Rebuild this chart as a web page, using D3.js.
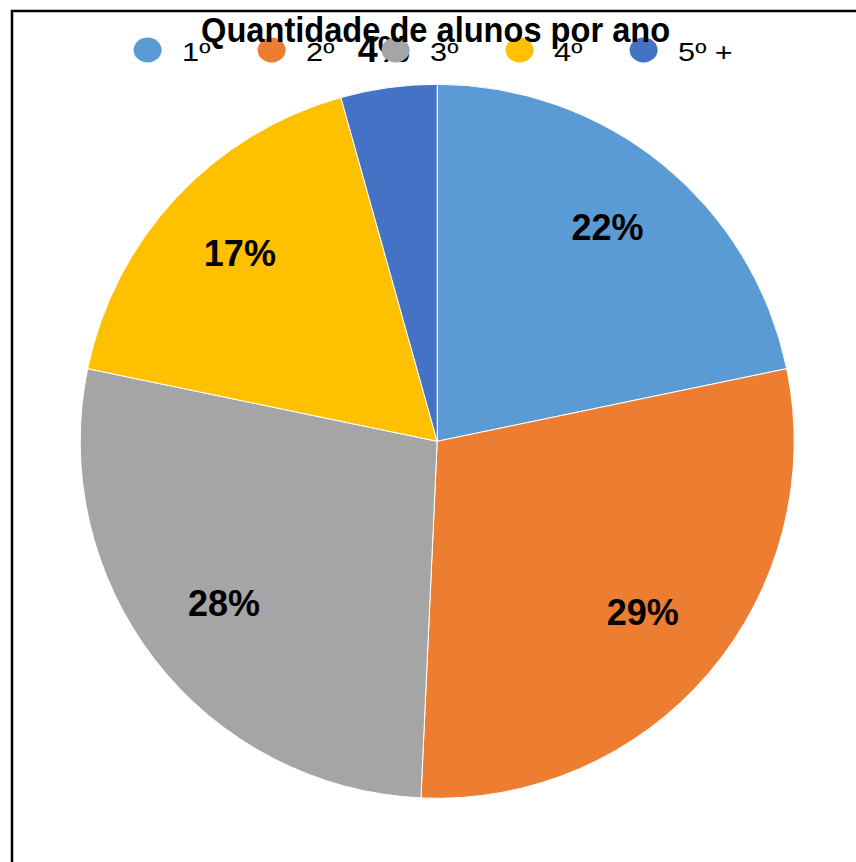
<!DOCTYPE html>
<html>
<head>
<meta charset="utf-8">
<script src="https://d3js.org/d3.v7.min.js"></script>
<style>
    body {
        margin: 0;
        background: #fff;
    }
    text {
        font-family: "Liberation Sans", Arial, sans-serif;
        fill: #000;
    }
</style>
</head>
<body>
<svg width="856" height="862"></svg>
<script>
    // data
    var categories = ["1º", "2º", "3º", "4º", "5º +"];
    var counts = [15, 20, 19, 12, 3];
    var colors = ["#5B9BD5", "#ED7D31", "#A5A5A5", "#FFC000", "#4472C4"];
    var title = "Quantidade de alunos por ano";

    var svg = d3.select("svg"),
        cx = 437.2, cy = 441.3,
        radius = 357;

    var total = d3.sum(counts);

    // frame (left & top edges visible)
    svg.append("rect")
        .attr("x", 12).attr("y", 11)
        .attr("width", 900).attr("height", 900)
        .attr("fill", "none")
        .attr("stroke", "#000")
        .attr("stroke-width", 2.5);

    var pie = d3.pie().sort(null).value(function (d) { return d; });
    var arcs = pie(counts);

    var arc = d3.arc().innerRadius(0).outerRadius(radius);
    var labelArc = d3.arc().innerRadius(270).outerRadius(270);
    var outArc = d3.arc().innerRadius(392).outerRadius(392);

    var g = svg.append("g").attr("transform", "translate(" + cx + "," + cy + ")");

    g.selectAll("path")
        .data(arcs)
        .enter().append("path")
        .attr("d", arc)
        .attr("fill", function (d, i) { return colors[i]; })
        .attr("stroke", "#fff")
        .attr("stroke-width", 1);

    // data labels
    g.selectAll("text.lbl")
        .data(arcs)
        .enter().append("text")
        .attr("class", "lbl")
        .attr("transform", function (d) {
            var c = (d.value / total < 0.05 ? outArc : labelArc).centroid(d);
            return "translate(" + c[0] + "," + c[1] + ")";
        })
        .attr("text-anchor", "middle")
        .attr("dy", "0.24em")
        .style("font-size", "36px")
        .style("font-weight", "bold")
        .text(function (d) { return Math.round(d.value / total * 100) + "%"; });

    // legend
    var legend = svg.append("g");
    var item = legend.selectAll("g")
        .data(categories)
        .enter().append("g")
        .attr("transform", function (d, i) { return "translate(" + (147.6 + i * 124) + ",50)"; });

    item.append("ellipse")
        .attr("rx", 14).attr("ry", 12.5)
        .attr("fill", function (d, i) { return colors[i]; });

    item.append("text")
        .attr("transform", "translate(34.5,11) scale(1.18,1)")
        .style("font-size", "26px")
        .text(function (d) { return d; });

    // title
    svg.append("text")
        .attr("x", 435.6)
        .attr("y", 42)
        .attr("text-anchor", "middle")
        .attr("textLength", 469)
        .attr("lengthAdjust", "spacingAndGlyphs")
        .style("font-size", "35px")
        .style("font-weight", "bold")
        .text(title);
</script>
</body>
</html>
